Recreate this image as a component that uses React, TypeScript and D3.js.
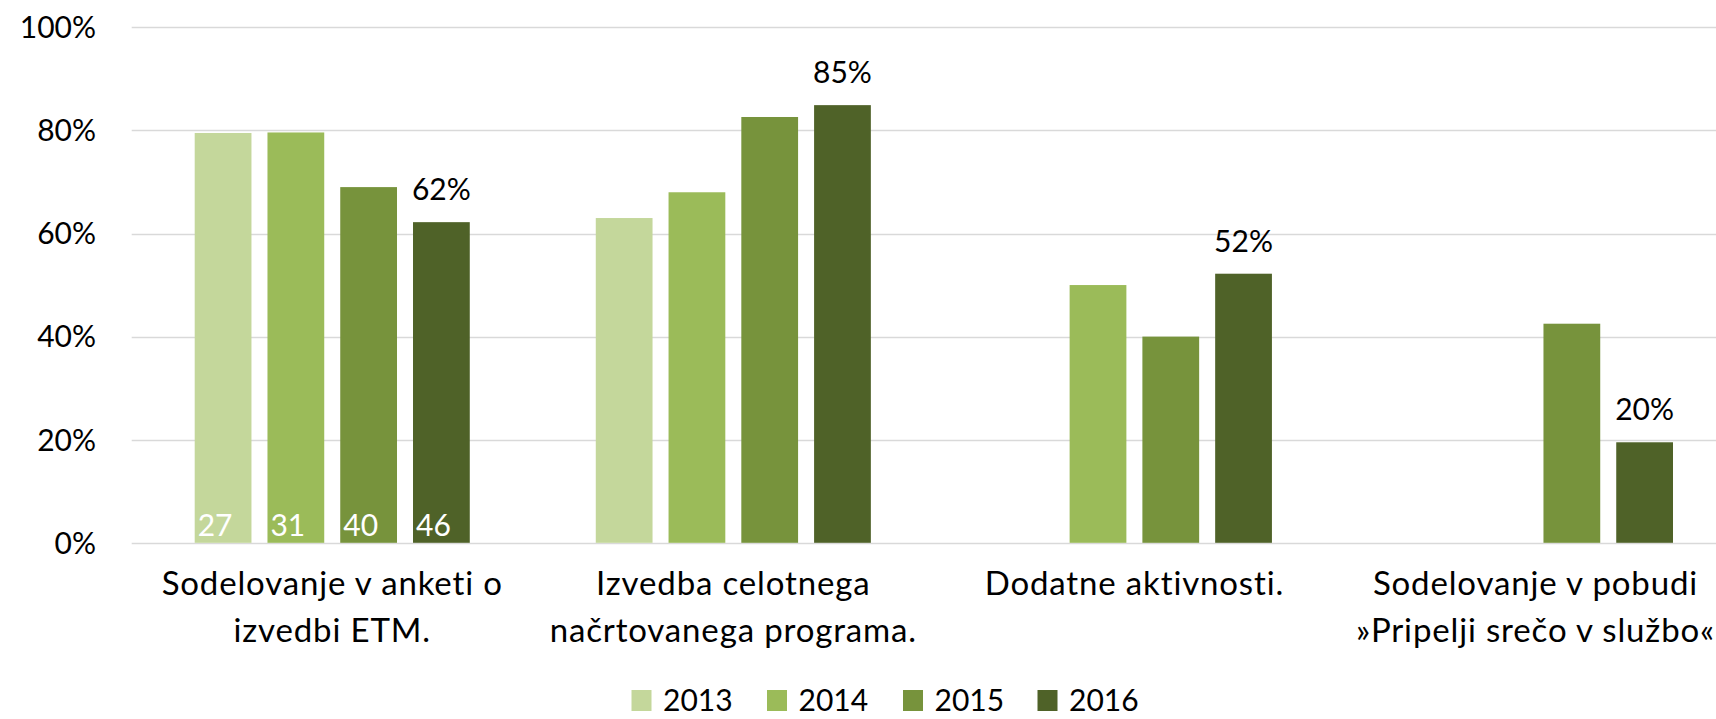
import React, { useEffect, useRef } from 'react';
import * as d3 from 'd3';

const categories = [
  ['Sodelovanje v anketi o', 'izvedbi ETM.'],
  ['Izvedba celotnega', 'načrtovanega programa.'],
  ['Dodatne aktivnosti.'],
  ['Sodelovanje v pobudi', '»Pripelji srečo v službo«'],
];
const years = ['2013', '2014', '2015', '2016'];
const colors = ['#C4D79B', '#9BBB59', '#77933C', '#4F6228'];

// percent values per year, null = no bar
const v2013 = [79.5, 63.0, null, null];
const v2014 = [79.6, 68.0, 50.0, null];
const v2015 = [69.0, 82.6, 40.0, 42.5];
const v2016 = [62.2, 84.9, 52.2, 19.5];
const series = [v2013, v2014, v2015, v2016];

const topLabels = ['62%', '85%', '52%', '20%'];
const countLabels = ['27', '31', '40', '46'];
const yTicks = [0, 20, 40, 60, 80, 100];

const W = 1716;
const H = 719;
const FONT = 'Lato, "Open Sans", sans-serif';

export default function App() {
  const ref = useRef(null);

  useEffect(() => {
    if (!ref.current) return;
    const svg = d3.select(ref.current);
    svg.selectAll('*').remove();

    const left = 131.7;
    const right = 1736;
    const y = d3.scaleLinear().domain([0, 100]).range([542.8, 27.3]);
    const x0 = d3.scaleBand().domain(categories.map((_, i) => String(i))).range([left, right]).padding(0);
    const x1 = d3.scaleBand().domain(years).range([63, x0.bandwidth() - 63]).paddingInner(0.22).paddingOuter(0);

    // gridlines
    svg.append('g')
      .selectAll('line')
      .data(yTicks)
      .join('line')
      .attr('x1', left)
      .attr('x2', W)
      .attr('y1', d => Math.round(y(d)) + 0.5)
      .attr('y2', d => Math.round(y(d)) + 0.5)
      .attr('stroke', '#D9D9D9')
      .attr('stroke-width', 1.3);

    svg.append('g')
      .selectAll('text')
      .data(yTicks)
      .join('text')
      .attr('x', 96)
      .attr('y', d => y(d))
      .attr('dy', '0.36em')
      .attr('text-anchor', 'end')
      .attr('font-size', 30)
      .attr('fill', '#000')
      .text(d => d + '%');

    // bars
    const groups = svg.append('g')
      .selectAll('g')
      .data(categories.map((_, i) => i))
      .join('g')
      .attr('transform', i => `translate(${x0(String(i))},0)`);

    groups.selectAll('rect')
      .data(i => years.map((yr, k) => ({ yr, k, v: series[k][i] })).filter(d => d.v !== null))
      .join('rect')
      .attr('x', d => x1(d.yr)!)
      .attr('y', d => y(d.v as number))
      .attr('width', x1.bandwidth())
      .attr('height', d => y(0) - y(d.v as number))
      .attr('fill', d => colors[d.k]);

    // value labels above 2016 bars
    groups.append('text')
      .attr('x', () => x1('2016')! + x1.bandwidth() / 2)
      .attr('y', i => y(v2016[i] as number) - 22)
      .attr('text-anchor', 'middle')
      .attr('font-size', 30)
      .attr('fill', '#000')
      .text(i => topLabels[i]);

    // counts inside first group
    svg.append('g')
      .selectAll('text')
      .data(years)
      .join('text')
      .attr('x', yr => x0('0')! + x1(yr)! + 3)
      .attr('y', 536)
      .attr('font-size', 30)
      .attr('fill', '#fff')
      .text((_, k) => countLabels[k]);

    // category labels
    groups.append('text')
      .attr('text-anchor', 'middle')
      .attr('font-size', 33)
      .attr('letter-spacing', 0.85)
      .attr('fill', '#000')
      .selectAll('tspan')
      .data(i => categories[i])
      .join('tspan')
      .attr('x', x0.bandwidth() / 2)
      .attr('y', (_, j) => 595 + j * 47)
      .text(d => d);

    // legend
    const legendX = [631.5, 767, 903, 1037.5];
    const leg = svg.append('g')
      .selectAll('g')
      .data(years)
      .join('g')
      .attr('transform', (_, k) => `translate(${legendX[k]},0)`);
    leg.append('rect')
      .attr('x', 0)
      .attr('y', 690)
      .attr('width', 20)
      .attr('height', 21)
      .attr('fill', (_, k) => colors[k]);
    leg.append('text')
      .attr('x', 31.5)
      .attr('y', 711)
      .attr('font-size', 30)
      .attr('fill', '#000')
      .text(d => d);
  }, []);

  return (
    <div style={{ position: 'fixed', left: 0, top: 0, width: W, height: H, background: '#fff' }}>
      <svg ref={ref} width={W} height={H} style={{ display: 'block', fontFamily: FONT }} />
    </div>
  );
}
